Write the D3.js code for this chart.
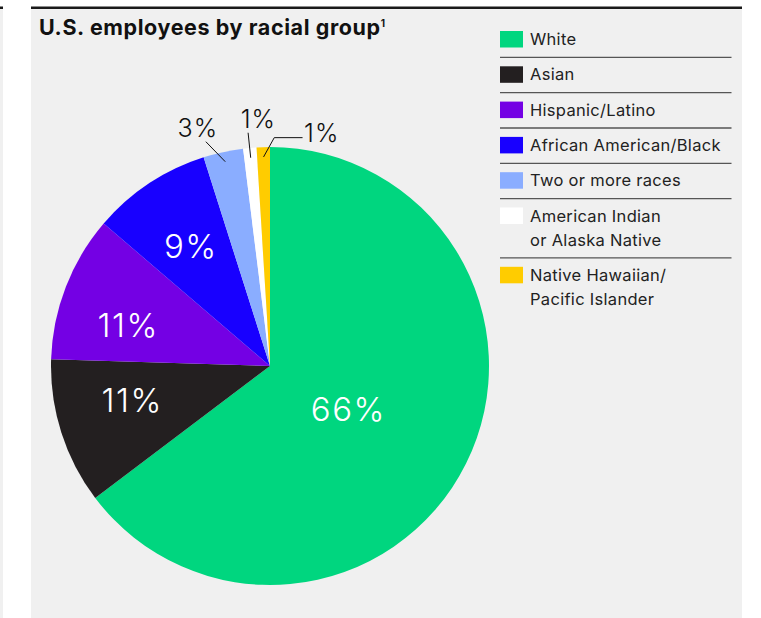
<!DOCTYPE html>
<html>
<head>
<meta charset="utf-8">
<script src="https://cdn.jsdelivr.net/npm/d3@7"></script>
<style>
  html, body { margin: 0; padding: 0; background: #ffffff; }
  svg { display: block; }
  text { font-family: Inter, "Liberation Sans", Arial, sans-serif; }
</style>
</head>
<body>
<svg id="chart" width="761" height="618"></svg>
<script>
// Workforce composition, U.S. employees (percent, rounded)
const categories = [
  "White",
  "Asian",
  "Hispanic/Latino",
  "African American/Black",
  "Two or more races",
  "American Indian or Alaska Native",
  "Native Hawaiian/Pacific Islander"
];
const shares = [66, 11, 11, 9, 3, 1, 1];
const legendLines = [
  ["White"],
  ["Asian"],
  ["Hispanic/Latino"],
  ["African American/Black"],
  ["Two or more races"],
  ["American Indian", "or Alaska Native"],
  ["Native Hawaiian/", "Pacific Islander"]
];
const palette = ["#00d67f", "#231f20", "#7400e4", "#1800ff", "#8aadff", "#ffffff", "#ffcc00"];

const W = 761, H = 618;
const svg = d3.select("#chart");

// background panels and rules
svg.append("rect").attr("x", 0).attr("y", 9).attr("width", 3).attr("height", H - 9).attr("fill", "#f0f0f0");
svg.append("rect").attr("x", 0).attr("y", 6.5).attr("width", 3).attr("height", 2.5).attr("fill", "#1a1a1a");
svg.append("rect").attr("x", 31).attr("y", 9).attr("width", 711).attr("height", H - 9).attr("fill", "#f0f0f0");
svg.append("rect").attr("x", 31).attr("y", 6.5).attr("width", 711).attr("height", 2.5).attr("fill", "#1a1a1a");

// title
const title = svg.append("text")
  .attr("x", 39).attr("y", 35)
  .attr("font-size", 21.5).attr("font-weight", 700)
  .attr("letter-spacing", 0.6).attr("fill", "#111");
title.append("tspan").text("U.S. employees by racial group");
title.append("tspan").attr("font-size", 10).attr("dy", -8).attr("dx", 0).text("1");

// pie
const cx = 270, cy = 366, R = 219;
const color = d3.scaleOrdinal().domain(categories).range(palette);
const pie = d3.pie().sort(null).value(d => d.value);
const arcs = pie(categories.map((c, i) => ({ key: c, value: shares[i] })));
const arc = d3.arc().innerRadius(0).outerRadius(R);

const g = svg.append("g").attr("transform", `translate(${cx},${cy})`);
g.selectAll("path.slice").data(arcs).enter().append("path")
  .attr("class", "slice")
  .attr("d", arc)
  .attr("fill", d => color(d.data.key));

// labels inside the larger slices, with small hand nudges
const nudges = { 0: [-2, 3], 1: [-1, -9], 2: [-8, 11], 3: [0, 0] };
const inner = arcs.filter(d => d.value >= 5);
g.selectAll("text.inner").data(inner).enter().append("text")
  .attr("class", "inner")
  .attr("transform", d => {
    const f = (d.endAngle - d.startAngle) > Math.PI ? 0.41 : 0.655;
    const c = d3.arc().innerRadius(0).outerRadius(2 * R * f).centroid(d);
    const n = nudges[d.index] || [0, 0];
    return `translate(${c[0] + n[0]},${c[1] + n[1]})`;
  })
  .attr("text-anchor", "middle")
  .attr("dy", "0.36em")
  .attr("font-size", 33)
  .attr("font-weight", 300)
  .attr("letter-spacing", 1.5)
  .attr("fill", "#ffffff")
  .text(d => d.value + "%");

// callouts for the thin slices: leader offsets and label placement
const callouts = {
  4: { path: [[-19.4, -20]], anchor: "middle", tx: -8, ty: -4.4 },
  5: { path: [[-2.6, -25]], anchor: "middle", tx: 10.3, ty: -5 },
  6: { path: [[10.7, -19.3], [28.3, 0]], anchor: "start", tx: 1.5, ty: 4 }
};
const small = arcs.filter(d => d.value < 5);
small.forEach(d => {
  const co = callouts[d.index];
  const mid = (d.startAngle + d.endAngle) / 2;
  const r0 = R * 0.955;
  let x = Math.sin(mid) * r0, y = -Math.cos(mid) * r0;
  const pts = [[x, y]];
  co.path.forEach(([dx, dy]) => { x += dx; y += dy; pts.push([x, y]); });
  g.append("path")
    .attr("d", d3.line()(pts))
    .attr("fill", "none")
    .attr("stroke", "#111")
    .attr("stroke-width", 1);
  g.append("text")
    .attr("x", x + co.tx).attr("y", y + co.ty)
    .attr("text-anchor", co.anchor)
    .attr("font-size", 25)
    .attr("font-weight", 300)
    .attr("letter-spacing", 1)
    .attr("fill", "#111")
    .text(d.value + "%");
});

// legend
const lg = svg.append("g");
const lineH = 24;
let rowTop = 31;
legendLines.forEach((lines, i) => {
  lg.append("rect")
    .attr("x", 500).attr("y", rowTop)
    .attr("width", 23).attr("height", 16.5)
    .attr("fill", color(categories[i]));
  lines.forEach((t, j) => {
    lg.append("text")
      .attr("x", 530).attr("y", rowTop + 14 + j * lineH)
      .attr("font-size", 16.5)
      .attr("letter-spacing", 0.3)
      .attr("fill", "#222")
      .text(t);
  });
  if (i < legendLines.length - 1) {
    const sy = rowTop + 26.4 + (lines.length - 1) * lineH;
    lg.append("line")
      .attr("x1", 500).attr("x2", 731.5)
      .attr("y1", sy).attr("y2", sy)
      .attr("stroke", "#555").attr("stroke-width", 1.3);
  }
  rowTop += 35.3 + (lines.length - 1) * lineH;
});
</script>
</body>
</html>
